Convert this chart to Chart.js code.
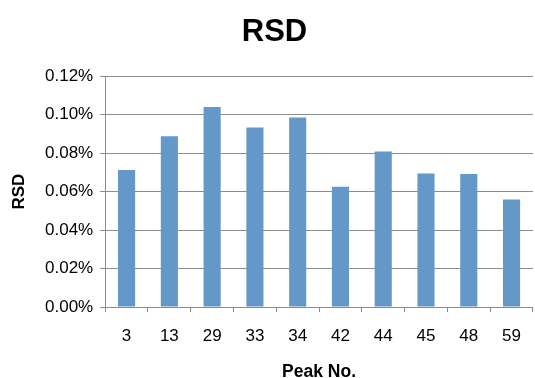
<!DOCTYPE html>
<html>
<head>
<meta charset="utf-8">
<script src="https://cdn.jsdelivr.net/npm/chart.js@4"></script>
<style>
html,body{margin:0;padding:0;background:#fff;}
#wrap{width:535px;height:378px;}
</style>
</head>
<body>
<div id="wrap"><canvas id="c" width="535" height="378"></canvas></div>
<script>
const categories = ['3','13','29','33','34','42','44','45','48','59'];
const rsdValues = [0.0713, 0.0888, 0.1040, 0.0933, 0.0985, 0.0625, 0.0809, 0.0694, 0.0692, 0.0559];
const yTickLabels = ['0.00%','0.02%','0.04%','0.06%','0.08%','0.10%','0.12%'];

const gridColor = '#8c8c8c';
const font = 'Liberation Sans, Arial, sans-serif';

new Chart(document.getElementById('c'), {
  type: 'bar',
  data: {
    labels: categories,
    datasets: [{
      data: rsdValues,
      backgroundColor: '#6398c8',
      borderWidth: 0,
      barPercentage: 0.4,
      categoryPercentage: 1.0
    }]
  },
  options: {
    responsive: false,
    animation: false,
    devicePixelRatio: 1,
    layout: { padding: { left: 14, right: 0, top: 0, bottom: 0 } },
    plugins: {
      legend: { display: false },
      tooltip: { enabled: false },
      title: {
        display: true,
        text: 'RSD',
        color: '#000',
        font: { family: font, size: 31, weight: 'bold', lineHeight: 1.2 },
        padding: { top: 14, bottom: 25 }
      }
    },
    scales: {
      x: {
        grid: { offset: true, drawOnChartArea: false, color: gridColor, tickLength: 5, lineWidth: 1 },
        border: { color: gridColor, width: 1 },
        ticks: { color: '#000', font: { family: font, size: 17 }, padding: 14, maxRotation: 0 },
        title: {
          display: true, text: 'Peak No.', color: '#000',
          font: { family: font, size: 17.5, weight: 'bold', lineHeight: 1 },
          padding: { top: 3, bottom: -3 }
        }
      },
      y: {
        min: 0, max: 0.12,
        grid: { color: gridColor, tickLength: 5, lineWidth: 1 },
        border: { color: gridColor, width: 1 },
        ticks: {
          stepSize: 0.02, color: '#000', font: { family: font, size: 17 }, padding: 7,
          callback: function(v, i) { return yTickLabels[i]; }
        },
        title: {
          display: true, text: 'RSD', color: '#000',
          font: { family: font, size: 17, weight: 'bold', lineHeight: 1 },
          padding: { top: -3.5, bottom: 10.5 }
        }
      }
    }
  }
});
</script>
</body>
</html>
